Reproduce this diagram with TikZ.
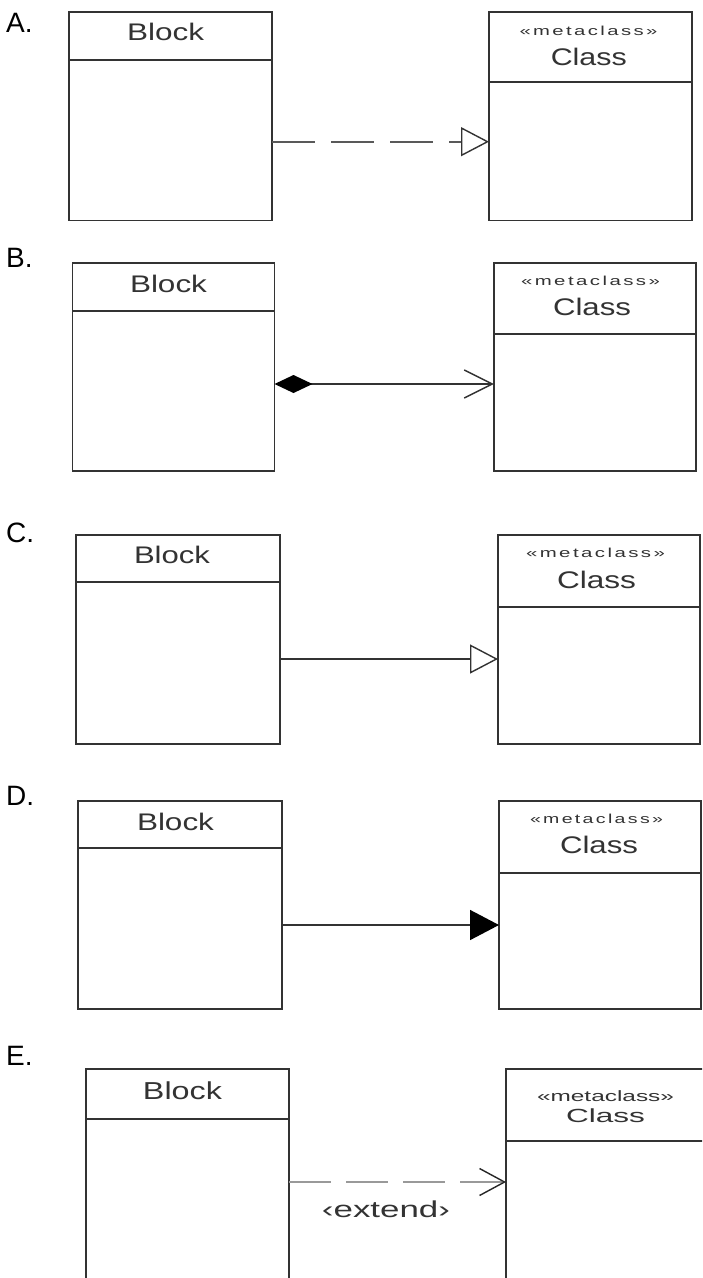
\documentclass[tikz,border=0pt]{standalone}
\usepackage{fontspec}
\setmainfont{Liberation Sans}
\newfontfamily\metaspaced[LetterSpace=12]{Liberation Sans}
\usetikzlibrary{arrows.meta,calc}
\newcommand{\wfit}[2]{\resizebox{#1}{\height}{#2}}
\begin{document}
\begin{tikzpicture}[x=1pt,y=-1pt,
  box/.style={draw=black!80, line width=1.9pt, rectangle, anchor=north west, inner sep=0pt, outer sep=0pt},
  hdr/.style={draw=black!80, line width=1.7pt},
  conn/.style={draw=black!80, line width=1.6pt},
  dep/.style={conn, draw=black!65, dash pattern=on 43pt off 16pt},
  ext/.style={conn, draw=black!40, dash pattern=on 42pt off 15pt},
  txt/.style={anchor=base, inner sep=0pt, text=black!80},
  lbl/.style={anchor=base west, inner sep=0pt, text=black, font=\fontsize{28}{30}\selectfont},
  openTri/.style={-{Triangle[open, length=28pt, width=29pt, fill=white, line width=1.4pt, color=black!80]}},
  fillTri/.style={-{Triangle[length=29pt, width=30pt, color=black]}}
]
\clip (0,0) rectangle (702,1278);
\fill[white] (0,0) rectangle (702,1278);

% ---------- A ----------
\node[lbl] (LA) at (6,32) {A.};
\node[box, minimum width=203pt, minimum height=208.5pt] (A1) at (69,12) {};
\node[box, minimum width=203pt, minimum height=208.5pt] (A2) at (489,12) {};
\draw[hdr] ($(A1.north west)+(0,48)$) -- ($(A1.north east)+(0,48)$);
\draw[hdr] ($(A2.north west)+(0,70)$) -- ($(A2.north east)+(0,70)$);
\node[txt] (A1t) at (165.7,40.7) {\wfit{77pt}{\fontsize{24}{26}\selectfont Block}};
\node[txt] (A2s) at (588.5,35) {\wfit{138pt}{\metaspaced\fontsize{13}{15}\selectfont «metaclass»}};
\node[txt] (A2t) at (588.8,65) {\wfit{76pt}{\fontsize{24}{26}\selectfont Class}};
\draw[dep, openTri] ($(A1.north east)+(0,129.7)$) -- ($(A2.north west)+(0,129.7)$);

% ---------- B ----------
\node[lbl] (LB) at (6,267) {B.};
\node[box, minimum width=202pt, minimum height=208pt] (B1) at (72.5,262.7) {};
\node[box, minimum width=202pt, minimum height=208pt] (B2) at (493.8,262.7) {};
\draw[hdr] ($(B1.north west)+(0,48)$) -- ($(B1.north east)+(0,48)$);
\draw[hdr] ($(B2.north west)+(0,71.6)$) -- ($(B2.north east)+(0,71.6)$);
\node[txt] (B1t) at (168.5,292) {\wfit{77pt}{\fontsize{24}{26}\selectfont Block}};
\node[txt] (B2s) at (590.5,285) {\wfit{139pt}{\metaspaced\fontsize{13}{15}\selectfont «metaclass»}};
\node[txt] (B2t) at (592,315) {\wfit{78pt}{\fontsize{24}{26}\selectfont Class}};
\draw[conn, {Diamond[length=38pt, width=18pt, color=black]}-{Straight Barb[length=28pt, width=28pt, line width=1.4pt]}]
  ($(B1.north east)+(0,121.3)$) -- ($(B2.north west)+(0,121.3)$);

% ---------- C ----------
\node[lbl] (LC) at (6,542) {C.};
\node[box, minimum width=204pt, minimum height=209pt] (C1) at (76,535) {};
\node[box, minimum width=202pt, minimum height=209pt] (C2) at (498,535) {};
\draw[hdr] ($(C1.north west)+(0,47)$) -- ($(C1.north east)+(0,47)$);
\draw[hdr] ($(C2.north west)+(0,72)$) -- ($(C2.north east)+(0,72)$);
\node[txt] (C1t) at (172,563) {\wfit{76pt}{\fontsize{24}{26}\selectfont Block}};
\node[txt] (C2s) at (595.5,557) {\wfit{139pt}{\metaspaced\fontsize{13}{15}\selectfont «metaclass»}};
\node[txt] (C2t) at (596.5,588) {\wfit{79pt}{\fontsize{24}{26}\selectfont Class}};
\draw[conn, openTri] ($(C1.north east)+(0,124)$) -- ($(C2.north west)+(0,124)$);

% ---------- D ----------
\node[lbl] (LD) at (6,805) {D.};
\node[box, minimum width=204pt, minimum height=208pt] (D1) at (78,801) {};
\node[box, minimum width=202pt, minimum height=208pt] (D2) at (499,801) {};
\draw[hdr] ($(D1.north west)+(0,47)$) -- ($(D1.north east)+(0,47)$);
\draw[hdr] ($(D2.north west)+(0,72)$) -- ($(D2.north east)+(0,72)$);
\node[txt] (D1t) at (175.5,830) {\wfit{77pt}{\fontsize{24}{26}\selectfont Block}};
\node[txt] (D2s) at (596.5,823) {\wfit{133pt}{\metaspaced\fontsize{13}{15}\selectfont «metaclass»}};
\node[txt] (D2t) at (599,853) {\wfit{78pt}{\fontsize{24}{26}\selectfont Class}};
\draw[conn, fillTri] ($(D1.north east)+(0,124)$) -- ($(D2.north west)+(0,124)$);

% ---------- E ----------
\node[lbl] (LE) at (6,1065) {E.};
\node[box, minimum width=203pt, minimum height=215pt] (E1) at (86,1069) {};
\node[box, minimum width=210pt, minimum height=215pt] (E2) at (506,1069) {};
\draw[hdr] ($(E1.north west)+(0,50)$) -- ($(E1.north east)+(0,50)$);
\draw[hdr] ($(E2.north west)+(0,72)$) -- ($(E2.north east)+(0,72)$);
\node[txt] (E1t) at (182.5,1099) {\wfit{79pt}{\fontsize{24.5}{26}\selectfont Block}};
\node[txt] (E2s) at (605.5,1101) {\wfit{137pt}{\fontsize{15}{17}\selectfont «metaclass»}};
\node[txt] (E2t) at (605.5,1122) {\wfit{79pt}{\fontsize{19}{21}\selectfont Class}};
\draw[ext, -{Straight Barb[length=25pt, width=27pt, line width=1.4pt, color=black!85]}]
  ($(E1.north east)+(0,113)$) -- ($(E2.north west)+(0,113)$);
\node[txt] (Elab) at (386,1217) {\wfit{128pt}{\fontsize{23}{25}\selectfont ‹extend›}};
\end{tikzpicture}
\end{document}
